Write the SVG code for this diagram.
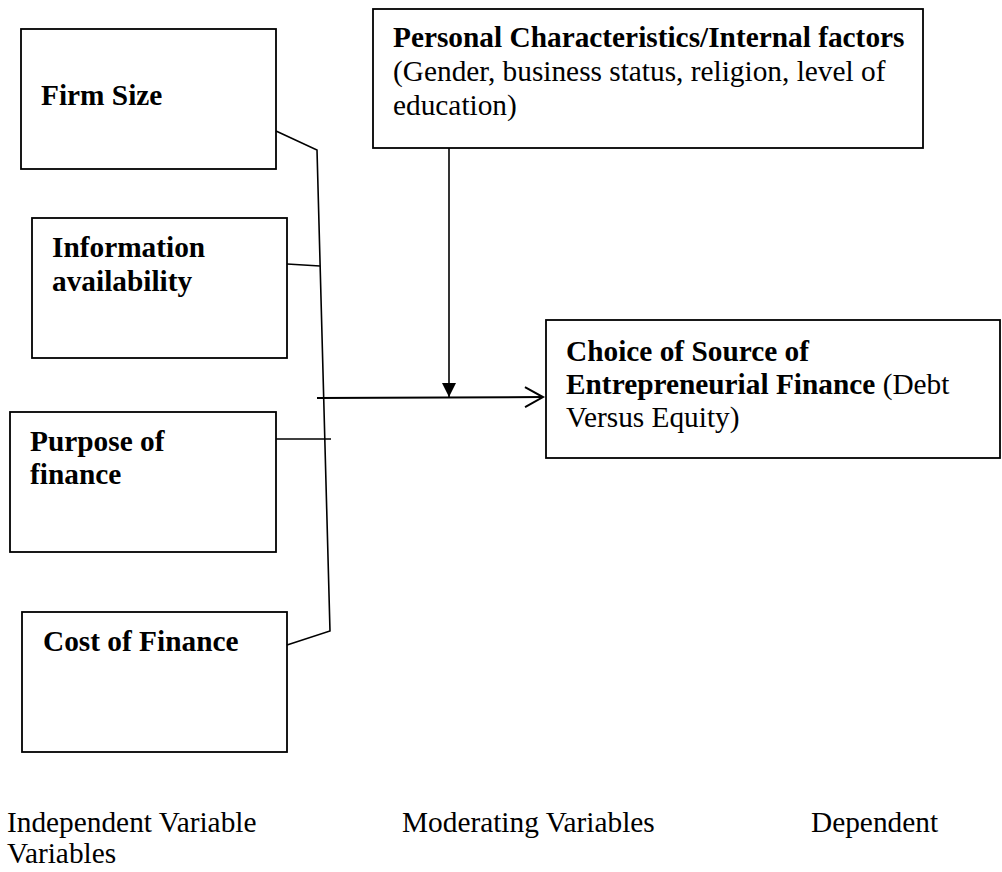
<svg xmlns="http://www.w3.org/2000/svg" width="1002" height="872" viewBox="0 0 1002 872">
  <style>
    .box { fill: #ffffff; stroke: #000000; stroke-width: 1.8; }
    .wire { fill: none; stroke: #000000; stroke-width: 1.6; }
    .flow { fill: none; stroke: #000000; stroke-width: 2; }
    text { font-family: "Liberation Serif", "Times New Roman", serif; font-size: 29.33px; fill: #000000; }
    .b { font-weight: bold; }
  </style>
  <defs>
    <marker id="open-head" markerWidth="22" markerHeight="22" refX="19" refY="11" orient="auto" markerUnits="userSpaceOnUse">
      <path d="M1,1 L19,11 L1,21" fill="none" stroke="#000000" stroke-width="2"/>
    </marker>
    <marker id="solid-head" markerWidth="16" markerHeight="16" refX="8" refY="15" orient="0" markerUnits="userSpaceOnUse">
      <path d="M1,1 L15,1 L8,15 Z" fill="#000000"/>
    </marker>
  </defs>
  <rect width="1002" height="872" fill="#ffffff"/>

  <!-- independent variables -->
  <g id="firm-size">
    <rect class="box" x="21" y="29" width="255" height="140"/>
    <text class="b" x="41" y="105">Firm Size</text>
  </g>
  <g id="information-availability">
    <rect class="box" x="32" y="218" width="255" height="140"/>
    <text class="b" x="52" y="257">Information</text>
    <text class="b" x="52" y="291">availability</text>
  </g>
  <g id="purpose-of-finance">
    <rect class="box" x="10" y="412" width="266" height="140"/>
    <text class="b" x="30" y="451">Purpose of</text>
    <text class="b" x="30" y="484">finance</text>
  </g>
  <g id="cost-of-finance">
    <rect class="box" x="22" y="612" width="265" height="140"/>
    <text class="b" x="43" y="651">Cost of Finance</text>
  </g>

  <!-- moderating variables -->
  <g id="personal-characteristics">
    <rect class="box" x="373" y="9" width="550" height="139"/>
    <text x="393" y="47"><tspan class="b">Personal Characteristics/Internal factors</tspan></text>
    <text x="393" y="81">(Gender, business status, religion, level of</text>
    <text x="393" y="115">education)</text>
  </g>

  <!-- dependent variable -->
  <g id="choice-of-source">
    <rect class="box" x="546" y="320" width="454" height="138"/>
    <text class="b" x="566" y="361">Choice of Source of</text>
    <text x="566" y="394"><tspan class="b">Entrepreneurial Finance</tspan> (Debt</text>
    <text x="566" y="427">Versus Equity)</text>
  </g>

  <!-- connectors -->
  <g id="connectors">
    <polyline class="wire" points="276,131 317,150 330,631 287,645"/>
    <line class="wire" x1="287" y1="264" x2="320" y2="266"/>
    <line class="wire" x1="276" y1="439" x2="331" y2="439"/>
    <line class="flow" x1="317" y1="398" x2="543" y2="397" marker-end="url(#open-head)"/>
    <line class="wire" x1="449" y1="148" x2="449" y2="397" marker-end="url(#solid-head)"/>
  </g>

  <!-- column captions -->
  <g id="captions">
    <text x="7" y="832">Independent Variable</text>
    <text x="7" y="863">Variables</text>
    <text x="402" y="832">Moderating Variables</text>
    <text x="811" y="832">Dependent</text>
  </g>
</svg>
